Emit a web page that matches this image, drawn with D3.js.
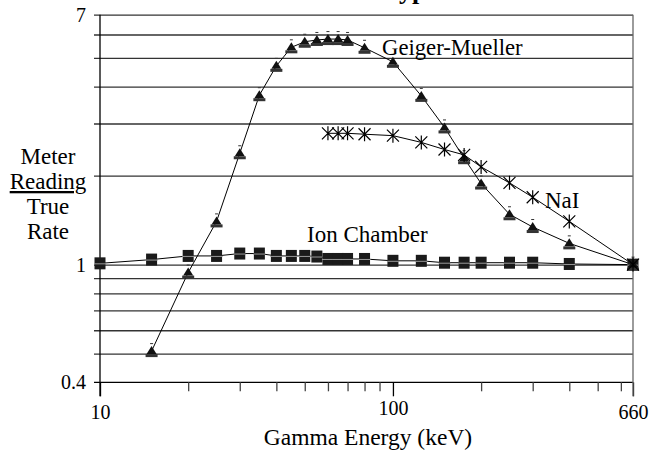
<!DOCTYPE html>
<html>
<head>
<meta charset="utf-8">
<script src="https://cdnjs.cloudflare.com/ajax/libs/d3/7.8.5/d3.min.js"></script>
<style>
  body { margin: 0; background: #fff; }
  text { font-family: "Liberation Serif", "Times New Roman", serif; fill: #000; }
</style>
</head>
<body>
<div id="chart"></div>
<script>
// values
const gmEnergy = [15, 20, 25, 30, 35, 40, 45, 50, 55, 60, 65, 70, 80, 100, 125, 150, 175, 200, 250, 300, 400, 660];
const gmRate = [0.51, 0.94, 1.40, 2.38, 3.74, 4.70, 5.43, 5.67, 5.75, 5.79, 5.79, 5.75, 5.41, 4.85, 3.72, 2.91, 2.29, 1.88, 1.48, 1.34, 1.18, 1.0];

const naiEnergy = [60, 65, 70, 80, 100, 125, 150, 175, 200, 250, 300, 400, 660];
const naiRate = [2.78, 2.78, 2.78, 2.76, 2.73, 2.59, 2.45, 2.35, 2.14, 1.89, 1.69, 1.40, 1.0];

const ionEnergy = [10, 15, 20, 25, 30, 35, 40, 45, 50, 55, 60, 65, 70, 80, 100, 125, 150, 175, 200, 250, 300, 400, 660];
const ionRate = [1.01, 1.04, 1.07, 1.07, 1.09, 1.09, 1.07, 1.07, 1.07, 1.065, 1.045, 1.045, 1.045, 1.045, 1.03, 1.03, 1.015, 1.015, 1.015, 1.015, 1.015, 1.005, 1.0];

const xMajor = [10, 100, 660];
const xMinor = [20, 30, 40, 50, 60, 70, 80, 90, 200, 300, 400, 500, 600];
const yLabels = [0.4, 1, 7];
const yGrid = [0.5, 0.6, 0.7, 0.8, 0.9, 1, 2, 3, 4, 5, 6, 7];
const yTitle = ["Meter", "Reading", "True", "Rate"];

const width = 652, height = 451;

const x = d3.scaleLog().domain([10, 660]).range([100, 633]);
const y = d3.scaleLog().domain([0.4, 7]).range([382.3, 14.7]);

const svg = d3.select("#chart")
  .append("svg")
  .attr("width", width)
  .attr("height", height);

// title, mostly above the visible area
svg.append("text")
  .attr("x", 438)
  .attr("y", -1)
  .attr("text-anchor", "end")
  .style("font-size", "26px")
  .style("font-weight", "bold")
  .text("Detector Type");

// horizontal grid lines with their small left ticks
svg.append("g")
  .attr("transform", "translate(94,0)")
  .call(d3.axisLeft(y).tickValues(yGrid).tickSizeInner(-(x(660) - 94)).tickSizeOuter(0).tickFormat(""))
  .call(g => g.select(".domain").remove())
  .call(g => g.selectAll(".tick line").attr("stroke", "#333").attr("stroke-width", 1.3));

// y labels
svg.append("g")
  .attr("transform", "translate(" + x(10) + ",0)")
  .call(d3.axisLeft(y).tickValues(yLabels).tickSize(0).tickPadding(14).tickFormat(d3.format("")))
  .call(g => g.select(".domain").remove())
  .call(g => g.selectAll("text").style("font-size", "20px"));

// x axis: bottom line, minor and major ticks
svg.append("line")
  .attr("x1", 94).attr("x2", x(660))
  .attr("y1", y(0.4)).attr("y2", y(0.4))
  .attr("stroke", "#000").attr("stroke-width", 1.3);

svg.append("g")
  .attr("transform", "translate(0," + y(0.4) + ")")
  .call(d3.axisBottom(x).tickValues(xMinor).tickSize(9).tickFormat(""))
  .call(g => g.select(".domain").remove())
  .call(g => g.selectAll(".tick line").attr("stroke", "#444").attr("stroke-width", 1.3));

svg.append("g")
  .attr("transform", "translate(0," + y(0.4) + ")")
  .call(d3.axisBottom(x).tickValues(xMajor).tickSize(14).tickPadding(9).tickFormat(d3.format("d")))
  .call(g => g.select(".domain").remove())
  .call(g => g.selectAll(".tick line").attr("stroke", "#000").attr("stroke-width", 1.3))
  .call(g => g.selectAll("text").style("font-size", "20px"))
  .call(g => g.selectAll("text").filter(d => d === 100).attr("y", 19));

// y axis line and right border line
svg.append("line")
  .attr("x1", x(10)).attr("x2", x(10))
  .attr("y1", y(7)).attr("y2", y(0.4) + 14)
  .attr("stroke", "#000").attr("stroke-width", 1.3);

svg.append("line")
  .attr("x1", x(660)).attr("x2", x(660))
  .attr("y1", y(7)).attr("y2", y(0.4) + 14)
  .attr("stroke", "#666").attr("stroke-width", 1.3);

// axis titles
svg.append("text")
  .attr("x", 368)
  .attr("y", 445)
  .attr("text-anchor", "middle")
  .style("font-size", "23.5px")
  .text("Gamma Energy (keV)");

svg.selectAll(".ytitle")
  .data(yTitle)
  .enter()
  .append("text")
  .attr("class", "ytitle")
  .attr("x", 48)
  .attr("y", (d, i) => 164 + i * 25)
  .attr("text-anchor", "middle")
  .style("font-size", "23px")
  .style("text-decoration", d => d === "Reading" ? "underline" : null)
  .text(d => d);

// series lines
const line = d3.line()
  .x(d => x(d[0]))
  .y(d => y(d[1]));

const gmData = gmEnergy.map((e, i) => [e, gmRate[i]]);
const naiData = naiEnergy.map((e, i) => [e, naiRate[i]]);
const ionData = ionEnergy.map((e, i) => [e, ionRate[i]]);

[ionData, gmData, naiData].forEach(function(data) {
  svg.append("path")
    .datum(data)
    .attr("d", line)
    .attr("fill", "none")
    .attr("stroke", "#000")
    .attr("stroke-width", 1);
});

// ion chamber squares
let sq = svg.selectAll(".sq")
  .data(ionData)
  .enter()
  .append("g")
  .attr("class", "sq")
  .attr("transform", d => "translate(" + x(d[0]) + "," + y(d[1]) + ")");

sq.append("rect")
  .attr("x", -5.5).attr("y", -6)
  .attr("width", 11).attr("height", 12)
  .attr("fill", "#1a1a1a");

sq.append("line")
  .attr("x1", -6).attr("x2", 6)
  .attr("y1", 0.5).attr("y2", 0.5)
  .attr("stroke", "#999").attr("stroke-width", 1);

// Geiger-Mueller triangles
let tri = svg.selectAll(".tri")
  .data(gmData)
  .enter()
  .append("g")
  .attr("class", "tri")
  .attr("transform", d => "translate(" + x(d[0]) + "," + y(d[1]) + ")");

tri.append("path")
  .attr("d", "M0,-5L5,3L-5,3Z")
  .attr("fill", "#111");

tri.append("rect")
  .attr("x", -6).attr("y", 3)
  .attr("width", 12).attr("height", 3)
  .attr("fill", "#333");

tri.append("line")
  .attr("x1", -1.5).attr("x2", 1.5)
  .attr("y1", -7.5).attr("y2", -7.5)
  .attr("stroke", "#333").attr("stroke-width", 1);

// NaI stars
svg.selectAll(".star")
  .data(naiData)
  .enter()
  .append("path")
  .attr("class", "star")
  .attr("transform", d => "translate(" + x(d[0]) + "," + y(d[1]) + ")")
  .attr("d", "M-6,-6L6,6M-6,6L6,-6M0,-7L0,7")
  .attr("stroke", "#000")
  .attr("stroke-width", 1.2)
  .attr("fill", "none");

// series labels
const seriesLabels = [
  {name: "Geiger-Mueller", x: 382, y: 55, size: 22.7},
  {name: "NaI", x: 545, y: 208, size: 23},
  {name: "Ion Chamber", x: 307, y: 242, size: 23}
];

svg.selectAll(".slabel")
  .data(seriesLabels)
  .enter()
  .append("text")
  .attr("class", "slabel")
  .attr("x", d => d.x)
  .attr("y", d => d.y)
  .style("font-size", d => d.size + "px")
  .text(d => d.name);
</script>
</body>
</html>
